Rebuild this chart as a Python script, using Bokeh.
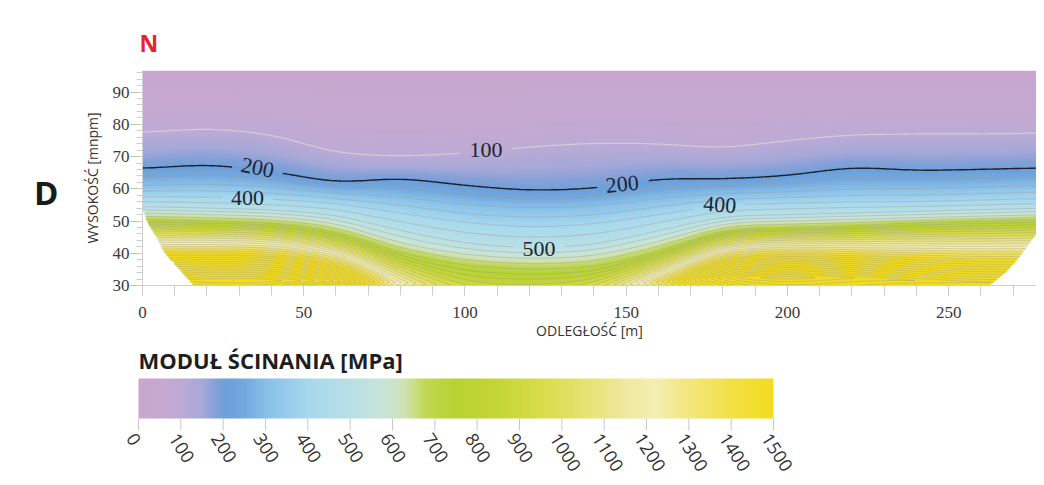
import numpy as np
import contourpy
from bokeh.plotting import figure
from bokeh.models import Range1d, SingleIntervalTicker, LinearColorMapper, LinearAxis, FixedTicker
from bokeh.layouts import column
from bokeh.embed import file_html
from bokeh.resources import INLINE
from bokeh.core.properties import value

# ---------------- data ----------------
station_x   = [0, 20, 40, 60, 80, 100, 120, 140, 160, 180, 200, 220, 240, 260, 280]
elev_100    = [77.4, 78.8, 77.0, 71.0, 70.0, 71.0, 73.0, 74.2, 74.0, 72.5, 75.0, 76.8, 77.0, 77.0, 77.3]
elev_200    = [66.2, 67.6, 65.5, 61.8, 63.4, 61.0, 59.4, 60.0, 63.2, 63.0, 64.0, 66.8, 65.6, 66.0, 66.5]
elev_300    = [61.0, 61.5, 60.5, 58.5, 57.5, 55.0, 54.0, 54.5, 57.0, 58.5, 59.0, 60.0, 60.0, 60.5, 61.0]
elev_400    = [57.5, 57.5, 56.8, 55.5, 52.5, 49.5, 48.0, 49.0, 52.0, 55.0, 55.5, 56.0, 56.0, 56.5, 57.0]
elev_500    = [54.5, 54.0, 53.5, 52.0, 47.0, 43.0, 41.5, 42.5, 47.0, 51.5, 52.0, 52.5, 53.0, 53.5, 54.0]
elev_600    = [52.5, 52.0, 51.5, 49.5, 43.0, 39.5, 38.2, 39.0, 43.5, 49.5, 50.0, 50.5, 51.0, 51.5, 52.0]
elev_700    = [50.5, 50.0, 49.5, 47.0, 40.0, 36.0, 35.0, 35.5, 40.5, 47.5, 48.0, 48.5, 49.5, 50.0, 50.5]
peak_elev   = [32.0, 31.5, 31.5, 31.5, 31.0, 30.0, 30.0, 30.0, 31.0, 32.5, 32.5, 32.5, 31.5, 31.0, 31.0]
peak_value  = [2000, 2100, 2100, 1900, 1150, 880, 850, 900, 1350, 2000, 2100, 2000, 1950, 1900, 1900]
bottom_value = [1950, 2000, 2000, 1750, 1120, 880, 850, 900, 1300, 1850, 1950, 1900, 1850, 1850, 1850]
top_value = 20
top_elev = 96.7

left_cut_x = [0, 1.5, 4, 6.5, 11, 15.5]
left_cut_y = [53, 49, 45, 40, 35, 30]
right_cut_x = [280, 276, 272, 268, 263]
right_cut_y = [50, 44, 38.6, 34, 30]

contour_label_text  = ["100", "200", "200", "400", "400", "500"]
contour_label_level = [100, 200, 200, 400, 400, 500]
contour_label_x     = [106.5, 35.7, 148.8, 32.6, 179.0, 123.0]
contour_label_y     = [71.9, 66.5, 61.4, 57.0, 55.0, 41.3]
contour_label_angle = [0.0, -0.2, 0.1, 0.0, -0.07, 0.0]

cbar_ticks = list(range(0, 1600, 100))
cbar_tick_labels = [str(t) for t in cbar_ticks]

palette_values = [0, 70, 100, 150, 180, 205, 250, 300, 400, 500, 580, 630, 680, 750, 850, 950, 1050, 1150, 1220, 1300, 1400, 1500]
palette_colors = ["#c8a6cd", "#c5a9d1", "#bcabd5", "#a4a8d8", "#84a0d8", "#6c9fd9", "#74a9de", "#88c0e8",
                  "#a6d8ee", "#b8e0e6", "#c8e4d8", "#d0e2b0", "#bfd852", "#b8d232", "#c4d636", "#d8dc48",
                  "#e4e26e", "#efe99e", "#f4eeb4", "#f2e67e", "#f2e046", "#f2dc20"]

# ---------------- palette ----------------
def hex2rgb(h):
    h = h.lstrip("#")
    return [int(h[i:i + 2], 16) for i in (0, 2, 4)]

pv = np.array(palette_values, float)
pc = np.array([hex2rgb(c) for c in palette_colors], float)
vals = np.linspace(0, 1500, 512)
palette = []
for v in vals:
    r = np.interp(v, pv, pc[:, 0]); g = np.interp(v, pv, pc[:, 1]); b = np.interp(v, pv, pc[:, 2])
    palette.append("#%02x%02x%02x" % (int(round(r)), int(round(g)), int(round(b))))
mapper = LinearColorMapper(palette=palette, low=0, high=1500, nan_color="white")

# ---------------- field ----------------
dx = 0.5
xg = np.arange(0, 280 + dx / 2, dx)
yg = np.linspace(30, top_elev, 335)

def smooth(a, width):
    n = int(width / dx) | 1
    k = np.ones(n) / n
    for _ in range(2):
        pad = np.pad(a, n // 2, mode="edge")
        a = np.convolve(pad, k, mode="valid")
    return a

def prof(arr):
    return smooth(np.interp(xg, station_x, arr), 14.0)

E = {lv: prof(a) for lv, a in zip([100, 200, 300, 400, 500, 600, 700],
                                   [elev_100, elev_200, elev_300, elev_400, elev_500, elev_600, elev_700])}
YP = prof(peak_elev)
VP = prof(peak_value)
V30 = prof(bottom_value)

Z = np.zeros((len(yg), len(xg)))
for i in range(len(xg)):
    yp = max(YP[i], 30.05)
    py = [30.0, yp, E[700][i], E[600][i], E[500][i], E[400][i], E[300][i], E[200][i], E[100][i], top_elev]
    pvv = [V30[i], VP[i], 700, 600, 500, 400, 300, 200, 100, top_value]
    Z[:, i] = np.interp(yg, py, pvv)

XX, YY = np.meshgrid(xg, yg)
lb = np.interp(YY, left_cut_y[::-1], left_cut_x[::-1])
rb = np.interp(YY, right_cut_y[::-1], right_cut_x[::-1])
mask = ((YY < left_cut_y[0]) & (XX < lb)) | ((YY < right_cut_y[0]) & (XX > rb))
Z[mask] = np.nan

# ---------------- main figure ----------------
FL, FR = 142, 1036
xscale = 3.2245
p = figure(width=1036, height=345, output_backend="svg", toolbar_location=None,
           x_range=Range1d(0, (FR - FL) / xscale), y_range=Range1d(30, top_elev),
           min_border_left=FL, min_border_right=0, min_border_top=70, min_border_bottom=60)
p.frame_align = False
p.outline_line_color = None
p.grid.visible = False
p.background_fill_color = "white"

p.title.text = "N"
p.title.text_color = "#e8232c"
p.title.text_font = "Open Sans"
p.title.text_font_style = "bold"
p.title.text_font_size = "23px"
p.title.align = "left"
p.title.offset = -3
p.title.standoff = 24

p.image(image=[Z], x=0, y=30, dw=280, dh=top_elev - 30, color_mapper=mapper)

# contour lines
gen = contourpy.contour_generator(x=xg, y=yg, z=np.ma.masked_invalid(Z))
levels = [100, 200] + list(range(250, 2101, 50))
boxes = []
for t, lv, cx, cy in zip(contour_label_text, contour_label_level, contour_label_x, contour_label_y):
    boxes.append((lv, cx - 7.8, cx + 7.8, cy - 3.0, cy + 3.0))

groups = {"l100": ([], []), "l200": ([], []), "other": ([], [])}
for lv in levels:
    key = "l100" if lv == 100 else ("l200" if lv == 200 else "other")
    for seg in gen.lines(lv):
        sx, sy = seg[:, 0], seg[:, 1]
        keep = np.ones(len(sx), bool)
        for (blv, x0, x1, y0, y1) in boxes:
            if blv == lv:
                keep &= ~((sx > x0) & (sx < x1) & (sy > y0) & (sy < y1))
        idx = np.where(keep)[0]
        if len(idx) < 2:
            continue
        splits = np.where(np.diff(idx) > 1)[0] + 1
        for run in np.split(idx, splits):
            if len(run) >= 2:
                groups[key][0].append(sx[run].tolist())
                groups[key][1].append(sy[run].tolist())

p.multi_line(groups["other"][0], groups["other"][1], line_color="#9a9a9a", line_alpha=0.5, line_width=0.8)
p.multi_line(groups["l100"][0], groups["l100"][1], line_color="#dcd2dc", line_alpha=0.8, line_width=1.2)
p.multi_line(groups["l200"][0], groups["l200"][1], line_color="#18222e", line_width=1.4)

p.text(x=contour_label_x, y=contour_label_y, text=contour_label_text, angle=contour_label_angle,
       text_font=value("Liberation Serif"), text_font_size="22px", text_color="#1c2430",
       text_align="center", text_baseline="middle")

# white cut-outs
p.patch(left_cut_x + [0], left_cut_y + [30], fill_color="white", line_color="white", line_width=1)
p.patch(right_cut_x + [280], right_cut_y + [30], fill_color="white", line_color="white", line_width=1)

# axes
p.xaxis.ticker = SingleIntervalTicker(interval=50, num_minor_ticks=5)
p.yaxis.ticker = SingleIntervalTicker(interval=10, num_minor_ticks=5)
for ax in (p.xaxis, p.yaxis):
    ax.major_label_text_font = "Liberation Serif"
    ax.major_label_text_font_size = "17px"
    ax.major_label_text_color = "#3a3a3a"
    ax.axis_line_color = "#cfcfcf"
    ax.major_tick_line_color = "#bdbdbd"
    ax.minor_tick_line_color = "#cdcdcd"
    ax.major_tick_in = 0
    ax.minor_tick_in = 0
    ax.axis_label_text_font = "Open Sans"
    ax.axis_label_text_font_style = "normal"
    ax.axis_label_text_font_size = "14px"
    ax.axis_label_text_color = "#333333"
p.xaxis.major_tick_out = 10
p.xaxis.minor_tick_out = 10
p.yaxis.major_tick_out = 12
p.yaxis.minor_tick_out = 6
p.xaxis.major_label_standoff = 11
p.yaxis.major_label_standoff = 1
p.xaxis.axis_label = "ODLEGŁOŚĆ [m]"
p.yaxis.axis_label = "WYSOKOŚĆ [mnpm]"
p.xaxis.axis_label_standoff = 0
p.yaxis.axis_label_standoff = 8

# panel letter "D" as an extra, line-less left axis
dax = LinearAxis(ticker=FixedTicker(ticks=[59]), major_label_overrides={59: "D"})
dax.axis_line_color = None
dax.major_tick_line_color = None
dax.minor_tick_line_color = None
dax.major_tick_out = 0
dax.major_label_standoff = 21
dax.major_label_text_font = "Open Sans"
dax.major_label_text_font_style = "bold"
dax.major_label_text_font_size = "33px"
dax.major_label_text_color = "#1a1a1a"
p.add_layout(dax, "left")

# ---------------- colour bar figure ----------------
BL, BR = 138, 773
sc = (BR - BL) / 1500.0
H2 = 132
c = figure(width=1036, height=H2, output_backend="svg", toolbar_location=None,
           x_range=Range1d(-BL / sc, (1036 - BL) / sc), y_range=Range1d(0, H2),
           min_border_left=0, min_border_right=0, min_border_top=0, min_border_bottom=0)
c.frame_align = False
c.axis.visible = False
c.grid.visible = False
c.outline_line_color = None

top2 = 345
def yy(page_y):
    return top2 + H2 - page_y

bar = np.linspace(0, 1500, 750)[None, :]
c.image(image=[bar], x=0, y=yy(418), dw=1500, dh=40, color_mapper=mapper)
c.segment(x0=cbar_ticks, y0=[yy(418)] * len(cbar_ticks), x1=cbar_ticks, y1=[yy(430)] * len(cbar_ticks),
          line_color="#c8c8c8", line_width=1)
c.text(x=cbar_ticks, y=[yy(431)] * len(cbar_ticks), text=cbar_tick_labels, angle=-1.0,
       x_offset=-2, text_font=value("Open Sans"), text_font_size="18px", text_color="#333333",
       text_align="left", text_baseline="top")
c.text(x=[0], y=[yy(359)], text=["MODUŁ ŚCINANIA [MPa]"], text_font=value("Open Sans"),
       text_font_style="bold", text_font_size="22px", text_color="#1e1e1e",
       text_align="left", text_baseline="middle")

layout = column(p, c, spacing=0)
open("out.html", "w").write(file_html(layout, INLINE))
